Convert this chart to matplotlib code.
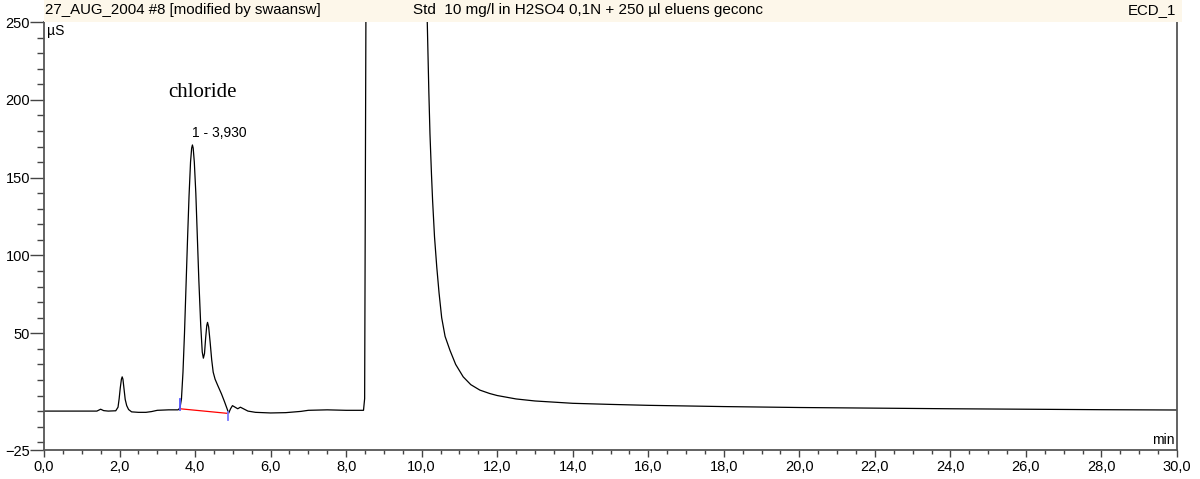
import matplotlib
matplotlib.use("Agg")
import matplotlib.pyplot as plt
from matplotlib.patches import Rectangle
from matplotlib.ticker import FixedLocator, MultipleLocator, FuncFormatter

# ---------------------------------------------------------------------------
# Trace (time in min, signal in uS)
# ---------------------------------------------------------------------------
time_min = [0.00, 1.40, 1.50, 1.58, 1.70, 1.90, 1.96, 1.99, 2.02, 2.05,
            2.07, 2.09, 2.12, 2.15, 2.19, 2.24, 2.32, 2.50, 2.70, 2.85,
            3.00, 3.30, 3.55, 3.60, 3.64, 3.68, 3.72, 3.76, 3.80, 3.84,
            3.88, 3.91, 3.93, 3.95, 3.98, 4.02, 4.06, 4.10, 4.15, 4.19,
            4.22, 4.25, 4.28, 4.31, 4.33, 4.36, 4.40, 4.44, 4.48, 4.53,
            4.60, 4.70, 4.78, 4.84, 4.89, 4.94, 4.99, 5.06, 5.13, 5.20,
            5.28, 5.40, 5.60, 6.00, 6.40, 6.80, 7.00, 7.50, 8.00, 8.46,
            8.49, 8.53, 10.10, 10.15, 10.19, 10.22, 10.26, 10.29, 10.34, 10.40,
            10.46, 10.53, 10.62, 10.75, 10.90, 11.10, 11.30, 11.54, 11.80, 12.00,
            12.50, 13.00, 14.00, 15.00, 16.00, 18.00, 20.00, 22.00, 24.00, 26.00,
            28.00, 30.00]
signal_us = [0.0, 0.0, 1.2, 0.3, 0.0, 0.2, 2.5, 8.0, 15.0, 20.5,
             22.0, 20.5, 14.0, 7.5, 3.5, 1.0, -0.5, -0.8, -0.8, -0.3,
             0.5, 0.8, 0.8, 2.0, 8.0, 25.0, 50.0, 80.0, 110.0, 138.0,
             160.0, 169.0, 171.0, 169.0, 160.0, 140.0, 112.0, 84.0, 55.0, 38.0,
             34.0, 37.0, 47.0, 55.0, 57.0, 54.0, 44.0, 33.0, 25.0, 20.5,
             16.5, 11.0, 6.0, 2.0, -1.3, 1.5, 3.5, 2.5, 1.5, 2.5,
             1.5, 0.0, -0.8, -1.2, -1.0, -0.2, 0.5, 0.8, 0.5, 0.5,
             8.0, 300.0, 300.0, 248.0, 205.0, 178.0, 152.0, 135.0, 112.0, 92.5,
             76.0, 60.0, 48.0, 39.0, 30.0, 22.0, 17.0, 13.5, 11.3, 10.0,
             7.8, 6.5, 5.0, 4.3, 3.7, 2.9, 2.3, 1.9, 1.5, 1.2,
             0.9, 0.7]

# integration of peak 1
base_t = [3.60, 4.88]
base_v = [1.5, -1.5]
mark_start = (3.60, 1.0, 8.0)
mark_end = (4.88, -0.5, -6.0)

peak_name = "chloride"
peak_label = "1 - 3,930"
peak_time = 3.93

header_left = "27_AUG_2004 #8 [modified by swaansw]"
header_mid = "Std  10 mg/l in H2SO4 0,1N + 250 \u00b5l eluens geconc"
header_right = "ECD_1"

y_major = [-25, 50, 100, 150, 200, 250]

# ---------------------------------------------------------------------------
W, H = 1200, 479
fig = plt.figure(figsize=(W / 100, H / 100), dpi=100)
x0, x1, yb, yt = 44, 1177, 450, 22
ax = fig.add_axes([x0 / W, 1 - yb / H, (x1 - x0) / W, (yb - yt) / H])

# header band
fig.patches.append(Rectangle((x0 / W, 1 - yt / H), (1182 - x0) / W, yt / H,
                             transform=fig.transFigure, facecolor="#fdf7ea",
                             edgecolor="none", zorder=0))
hfont = dict(family=["Liberation Sans", "DejaVu Sans"], fontsize=10.8, va="center")
fig.text(45 / W, 1 - 10 / H, header_left, ha="left", **hfont)
fig.text(413 / W, 1 - 10 / H, header_mid, ha="left",
         family=["Liberation Sans Narrow", "Liberation Sans"], fontsize=11,
         va="center")
fig.text(1176 / W, 1 - 10 / H, header_right, ha="right", **hfont)

ax.plot(time_min, signal_us, color="black", lw=0.9)
ax.plot(base_t, base_v, color="red", lw=0.9)
ax.plot([mark_start[0]] * 2, mark_start[1:], color="#5555ff", lw=1.3)
ax.plot([mark_end[0]] * 2, mark_end[1:], color="#7777ff", lw=1.3)

ax.text(4.21, 205, peak_name, family="Liberation Serif", fontsize=15,
        ha="center", va="center")
ax.text(peak_time, 174, peak_label, family="Liberation Sans", fontsize=10,
        ha="left", va="bottom")

ax.text(0.003, 0.995, "\u00b5S", transform=ax.transAxes, family="Liberation Sans",
        fontsize=10, ha="left", va="top")
ax.text(0.998, 0.008, "min", transform=ax.transAxes, family="Liberation Sans",
        fontsize=10, ha="right", va="bottom")

ax.set_xlim(0, 30)
ax.set_ylim(-25, 250)
ax.xaxis.set_major_locator(MultipleLocator(2))
ax.xaxis.set_minor_locator(MultipleLocator(0.5))
ax.xaxis.set_major_formatter(FuncFormatter(lambda v, p: f"{v:.1f}".replace(".", ",")))
ax.yaxis.set_major_locator(FixedLocator(y_major))
ax.yaxis.set_minor_locator(FixedLocator(list(range(-20, 250, 10))))

for lab in ax.get_xticklabels() + ax.get_yticklabels():
    lab.set_family("Liberation Sans")
ax.tick_params(axis="x", which="major", length=5, width=1, color="#444444",
               labelsize=10.5, pad=2)
ax.tick_params(axis="x", which="minor", length=3, width=1, color="#444444")
ax.tick_params(axis="y", which="major", length=10, width=1, color="#444444",
               labelsize=10.5, pad=0)
ax.tick_params(axis="y", which="minor", length=5, width=1, color="#444444")

ax.spines["top"].set_visible(False)
for s in ("left", "bottom", "right"):
    ax.spines[s].set_color("#555555")
    ax.spines[s].set_linewidth(1.3)

fig.savefig("out.png", dpi=100)
